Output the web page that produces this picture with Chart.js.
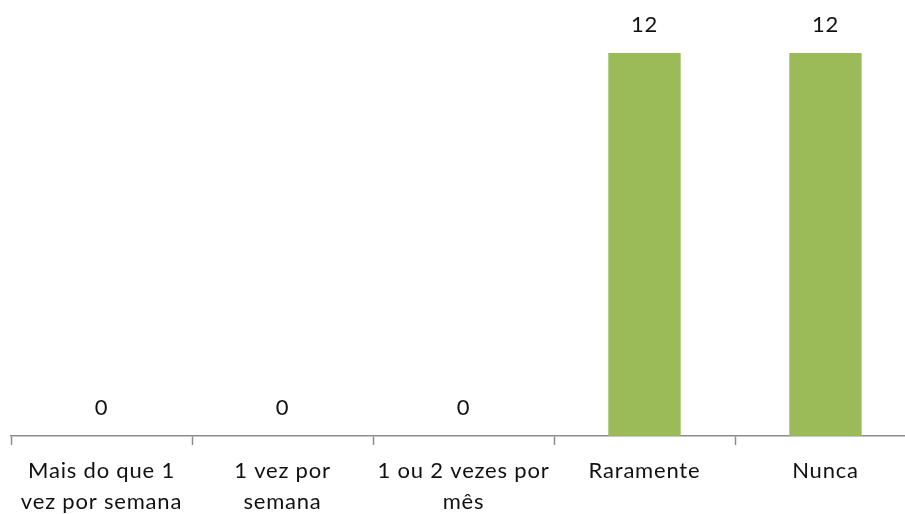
<!DOCTYPE html>
<html>
<head>
<meta charset="utf-8">
<script src="https://cdn.jsdelivr.net/npm/chart.js@4/dist/chart.umd.min.js"></script>
<style>
  html, body { margin: 0; padding: 0; background: #fff; overflow: hidden; }
  #wrap { width: 930px; height: 514px; position: relative; }
</style>
</head>
<body>
<div id="wrap"><canvas id="c"></canvas></div>
<script>
const categories = [
  ["Mais do que 1", "vez por semana"],
  ["1 vez por", "semana"],
  ["1 ou 2 vezes por", "mês"],
  "Raramente",
  "Nunca"
];
const values = [0, 0, 0, 12, 12];

const FONT = "Lato, 'Open Sans', sans-serif";

const spacing = {
  id: 'spacing',
  beforeDraw(chart) { chart.ctx.letterSpacing = '0.8px'; }
};

const valueLabels = {
  id: 'valueLabels',
  afterDatasetsDraw(chart) {
    const ctx = chart.ctx;
    const meta = chart.getDatasetMeta(0);
    ctx.save();
    ctx.letterSpacing = '0.8px';
    ctx.font = "22px " + FONT;
    ctx.fillStyle = "#111";
    ctx.textAlign = "center";
    ctx.textBaseline = "middle";
    meta.data.forEach((bar, i) => {
      ctx.fillText(String(values[i]), bar.x, bar.y - 28);
    });
    ctx.restore();
  }
};

new Chart(document.getElementById('c'), {
  type: 'bar',
  data: {
    labels: categories,
    datasets: [{
      data: values,
      backgroundColor: '#9BBB59',
      borderWidth: 0,
      categoryPercentage: 1.0,
      barPercentage: 0.4
    }]
  },
  options: {
    responsive: true,
    maintainAspectRatio: false,
    animation: false,
    devicePixelRatio: 1,
    layout: { padding: { top: 53, left: 11, right: 14, bottom: 0 } },
    plugins: { legend: { display: false }, tooltip: { enabled: false } },
    scales: {
      y: { display: false, min: 0, max: 12 },
      x: {
        afterFit(scale) { scale.height = 514 - 436; },
        border: { display: true, color: '#8c8c8c', width: 1.5 },
        grid: {
          offset: true,
          drawOnChartArea: false,
          drawTicks: true,
          tickLength: 9,
          tickWidth: 1.5,
          tickColor: '#8c8c8c'
        },
        ticks: {
          color: '#111',
          font: { family: FONT, size: 22, lineHeight: 1.41 },
          padding: 10,
          maxRotation: 0,
          autoSkip: false
        }
      }
    }
  },
  plugins: [spacing, valueLabels]
});
</script>
</body>
</html>
